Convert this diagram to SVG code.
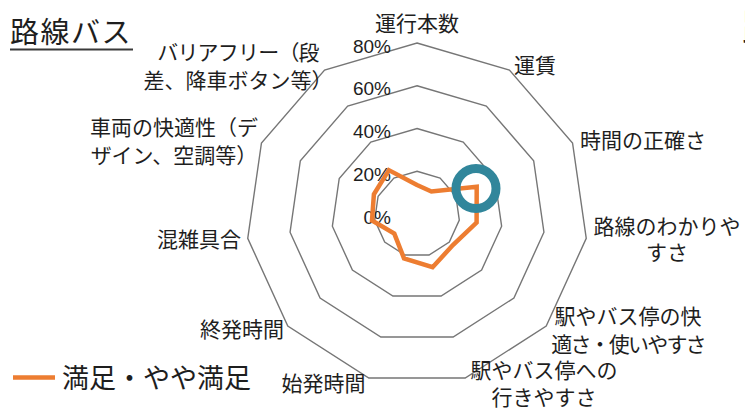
<svg xmlns="http://www.w3.org/2000/svg" width="745" height="408" viewBox="0 0 745 408">
<style>
.ring{fill:none;stroke:#767676;stroke-width:1.4;stroke-linejoin:miter}
.lbl{font-family:"Noto Sans CJK JP","Noto Sans CJK SC",sans-serif;font-size:21px;fill:#1e1e1e}
.pct{font-family:"Liberation Sans",Arial,sans-serif;font-size:19px;fill:#1e1e1e;text-anchor:end}
.mid{text-anchor:middle}
.end{text-anchor:end}
.series{fill:none;stroke:#ED7D31;stroke-width:4.5;stroke-linejoin:miter}
</style>
<rect width="745" height="408" fill="#ffffff"/>
<g id="title">
<text x="10" y="43" class="lbl" style="font-size:29px;letter-spacing:1.5px">路線バス</text>
<line x1="10" y1="49.5" x2="133" y2="49.5" stroke="#3a3a3a" stroke-width="2"/>
</g>
<g id="title-next">
<text x="742" y="41" class="lbl" style="font-size:38px">路</text>
</g>
<g id="grid">
<polygon class="ring" points="417,43 509.44,70.14 572.54,142.97 586.26,238.33 546.22,325.99 465.17,378.07 368.83,378.07 287.78,325.99 247.74,238.33 261.46,142.97 324.56,70.14"/>
<polygon class="ring" points="417,85.75 486.33,106.1 533.66,160.73 543.94,232.25 513.92,297.99 453.13,337.05 380.87,337.05 320.08,297.99 290.06,232.25 300.34,160.73 347.67,106.1"/>
<polygon class="ring" points="417,128.5 463.22,142.07 494.77,178.48 501.63,226.17 481.61,269.99 441.09,296.04 392.91,296.04 352.39,269.99 332.37,226.17 339.23,178.48 370.78,142.07"/>
<polygon class="ring" points="417,171.25 440.11,178.03 455.89,196.24 459.31,220.08 449.31,242 429.04,255.02 404.96,255.02 384.69,242 374.69,220.08 378.11,196.24 393.89,178.03"/>
</g>
<g id="scale">
<text x="391" y="52.5" class="pct">80%</text>
<text x="391" y="95.2" class="pct">60%</text>
<text x="391" y="138" class="pct">40%</text>
<text x="391" y="180.7" class="pct">20%</text>
<text x="391" y="223.5" class="pct">0%</text>
</g>
<g id="connectors">
<polygon id="series-satisfied" class="series" points="417,185 431.4,191.5 476.7,186.7 476.6,222.6 452.9,245.1 432.6,267.2 404,258.3 394.3,233.6 372,220.5 373.9,194.3 388.8,170.1"/>
</g>
<g id="highlight">
<circle cx="476" cy="188.5" r="20" fill="none" stroke="#31869B" stroke-width="9"/>
</g>
<g id="axis-labels">
<g id="ax0"><text x="417" y="31" class="lbl mid">運行本数</text></g>
<g id="ax1"><text x="514" y="73" class="lbl">運賃</text></g>
<g id="ax2"><text x="580" y="148" class="lbl">時間の正確さ</text></g>
<g id="ax3"><text x="667" y="234" class="lbl mid">路線のわかりや</text><text x="667" y="260" class="lbl mid">すさ</text></g>
<g id="ax4"><text x="628" y="324" class="lbl mid">駅やバス停の快</text><text x="628" y="352" class="lbl mid" style="letter-spacing:-1.8px">適さ・使いやすさ</text></g>
<g id="ax5"><text x="544" y="378" class="lbl mid">駅やバス停への</text><text x="544" y="405" class="lbl mid">行きやすさ</text></g>
<g id="ax6"><text x="323.5" y="391" class="lbl mid">始発時間</text></g>
<g id="ax7"><text x="284" y="337" class="lbl end">終発時間</text></g>
<g id="ax8"><text x="241" y="247" class="lbl end">混雑具合</text></g>
<g id="ax9"><text x="174" y="135" class="lbl mid">車両の快適性（デ</text><text x="174" y="163" class="lbl mid">ザイン、空調等）</text></g>
<g id="ax10"><text x="238" y="60" class="lbl mid" style="letter-spacing:-0.8px">バリアフリー（段</text><text x="238" y="88" class="lbl mid">差、降車ボタン等）</text></g>
</g>
<g id="legend">
<line x1="13" y1="377.5" x2="55" y2="377.5" stroke="#ED7D31" stroke-width="4.5"/>
<text x="62" y="388" class="lbl" style="font-size:27px">満足・やや満足</text>
</g>
</svg>
